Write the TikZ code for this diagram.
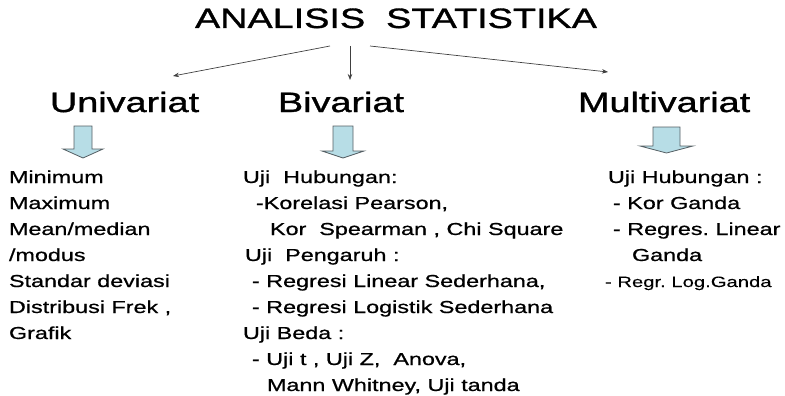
\documentclass[tikz,border=0pt]{standalone}
\usepackage{fontspec}
\setmainfont{Liberation Sans}[FakeStretch=1.35]
\newfontfamily\headfam{Liberation Sans}[FakeStretch=1.35,FakeBold=1.2]
\newfontfamily\bodyfam{Liberation Sans}[FakeStretch=1.35,FakeBold=0.8]
\newfontfamily\smallfam{Liberation Sans}[FakeStretch=1.35,FakeBold=0.2]
\usetikzlibrary{arrows.meta}
\definecolor{arrowfill}{RGB}{183,221,230}
\definecolor{arrowline}{RGB}{85,95,100}
\frenchspacing
\begin{document}
\begin{tikzpicture}[x=1pt,y=-1pt,
  txt/.style={anchor=base west,inner sep=0pt,outer sep=0pt},
  titletxt/.style={txt,font=\headfam\fontsize{28}{30}\selectfont},
  headtxt/.style={txt,font=\headfam\fontsize{28}{30}\selectfont},
  bodytxt/.style={txt,font=\bodyfam\fontsize{17.3}{20}\selectfont},
  smalltxt/.style={txt,font=\smallfam\fontsize{15}{18}\selectfont},
  conn/.style={draw=black!75,line width=0.7pt,-{Stealth[length=6pt,width=4.5pt]}},
  blockarrow/.style={fill=arrowfill,draw=arrowline,line width=0.8pt,line join=miter}]
\path[use as bounding box] (0,0) rectangle (785,396);

% title and headings
\node[titletxt] (title) at (195,28) {ANALISIS\ \ STATISTIKA};
\node[headtxt] (uni) at (50,112) {Univariat};
\node[headtxt] (bi) at (278,112) {Bivariat};
\node[headtxt] (multi) at (578,112) {Multivariat};

% connectors
\coordinate (sL) at (330,46);
\coordinate (sM) at (350,46);
\coordinate (sR) at (370,46);
\coordinate (eL) at (173,76);
\coordinate (eM) at (350,80);
\coordinate (eR) at (608,72);
\draw[conn] (sL) -- (eL);
\draw[conn] (sM) -- (eM);
\draw[conn] (sR) -- (eR);

% block arrows
\draw[blockarrow] (74,126) -- (92,126) -- (92,149) -- (103,149) -- (83,158) -- (63,149) -- (74,149) -- cycle;
\draw[blockarrow] (333,126) -- (353,126) -- (353,151) -- (364,151) -- (343,158) -- (322,151) -- (333,151) -- cycle;
\draw[blockarrow] (653,127) -- (680,127) -- (680,146) -- (693,146) -- (666.5,153) -- (640,146) -- (653,146) -- cycle;

% Univariat list
\node[bodytxt] (u1) at (9,183) {Minimum};
\node[bodytxt] (u2) at (9,209) {Maximum};
\node[bodytxt] (u3) at (9,235) {Mean/median};
\node[bodytxt] (u4) at (9,261) {/modus};
\node[bodytxt] (u5) at (9,287) {Standar deviasi};
\node[bodytxt] (u6) at (9,313) {Distribusi Frek ,};
\node[bodytxt] (u7) at (9,339) {Grafik};

% Bivariat list
\node[bodytxt] (b1) at (243,183) {Uji\ \ Hubungan:};
\node[bodytxt] (b2) at (256,209) {-Korelasi Pearson,};
\node[bodytxt] (b3) at (270,235) {Kor\ \ Spearman , Chi Square};
\node[bodytxt] (b4) at (245,261) {Uji\ \ Pengaruh :};
\node[bodytxt] (b5) at (252,287) {- Regresi Linear Sederhana,};
\node[bodytxt] (b6) at (252,313) {- Regresi Logistik Sederhana};
\node[bodytxt] (b7) at (243,339) {Uji Beda :};
\node[bodytxt] (b8) at (252,365) {- Uji t , Uji Z,\ \ Anova,};
\node[bodytxt] (b9) at (267,391) {Mann Whitney, Uji tanda};

% Multivariat list
\node[bodytxt] (m1) at (608,183) {Uji Hubungan :};
\node[bodytxt] (m2) at (613,209) {- Kor Ganda};
\node[bodytxt] (m3) at (613,235) {- Regres. Linear};
\node[bodytxt] (m4) at (632,261) {Ganda};
\node[smalltxt] (m5) at (605,287) {- Regr. Log.Ganda};
\end{tikzpicture}
\end{document}
